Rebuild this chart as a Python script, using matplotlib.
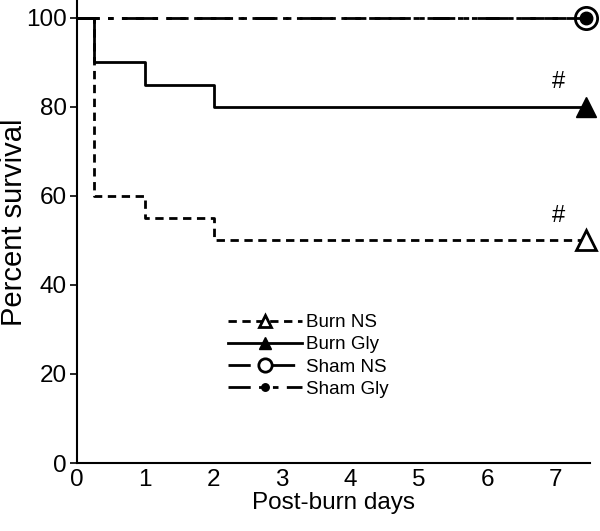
import numpy as np
import matplotlib.pyplot as plt

plt.rcParams['font.family'] = ['Liberation Sans', 'DejaVu Sans']

# survival data (step curves)
days = [0, 0.25, 1, 2, 7.45]
burn_ns = [100, 60, 55, 50, 50]
burn_gly = [100, 90, 85, 80, 80]
sham_ns = [100, 100, 100, 100, 100]
sham_gly = [100, 100, 100, 100, 100]

fig = plt.figure(figsize=(6, 5.31), dpi=100)
ax = fig.add_axes([0.128, 0.128, 0.855, 0.872])

lw = 2
ax.plot(days, sham_ns, drawstyle='steps-post', color='black', lw=lw,
        linestyle=(0, (8, 3, 2, 3)), marker='o', markevery=[-1], markersize=16,
        markerfacecolor='white', markeredgewidth=2, label='Sham NS', clip_on=False)
ax.plot(days, sham_gly, drawstyle='steps-post', color='black', lw=lw,
        linestyle=(0, (8, 3, 2, 3, 2, 3)), marker='o', markevery=[-1], markersize=9,
        label='Sham Gly', clip_on=False)
ax.plot(days, burn_ns, drawstyle='steps-post', color='black', lw=lw,
        linestyle=(0, (3, 2)), marker='^', markevery=[-1], markersize=15,
        markerfacecolor='white', markeredgewidth=2, label='Burn NS', clip_on=False)
ax.plot(days, burn_gly, drawstyle='steps-post', color='black', lw=lw,
        linestyle='-', marker='^', markevery=[-1], markersize=15,
        label='Burn Gly', clip_on=False)

ax.text(7.04, 83, '#', fontsize=17, ha='center', va='bottom')
ax.text(7.04, 53, '#', fontsize=17, ha='center', va='bottom')

ax.set_xlim(0, 7.5)
ax.set_ylim(0, 104)
ax.set_xticks(range(8))
ax.set_yticks([0, 20, 40, 60, 80, 100])
ax.tick_params(axis='both', labelsize=17.5, width=1.2)
ax.tick_params(axis='x', length=0, pad=4)
ax.tick_params(axis='y', length=5, pad=2)
ax.spines['top'].set_visible(False)
ax.spines['right'].set_visible(False)
ax.spines['left'].set_linewidth(1.5)
ax.spines['bottom'].set_linewidth(1.5)
ax.set_xlabel('Post-burn days', fontsize=17.5, labelpad=1)
ax.set_ylabel('Percent survival', fontsize=21)
ax.yaxis.set_label_coords(-0.096, 0.52)

h, l = ax.get_legend_handles_labels()
order = [2, 3, 0, 1]
ax.legend([h[i] for i in order], [l[i] for i in order], frameon=False,
          fontsize=13.5, handlelength=3.9, markerscale=0.6,
          loc='upper left', bbox_to_anchor=(0.27, 0.35), labelspacing=0.27,
          handletextpad=0.25, borderpad=0.2)

fig.savefig('out.png', dpi=100)
